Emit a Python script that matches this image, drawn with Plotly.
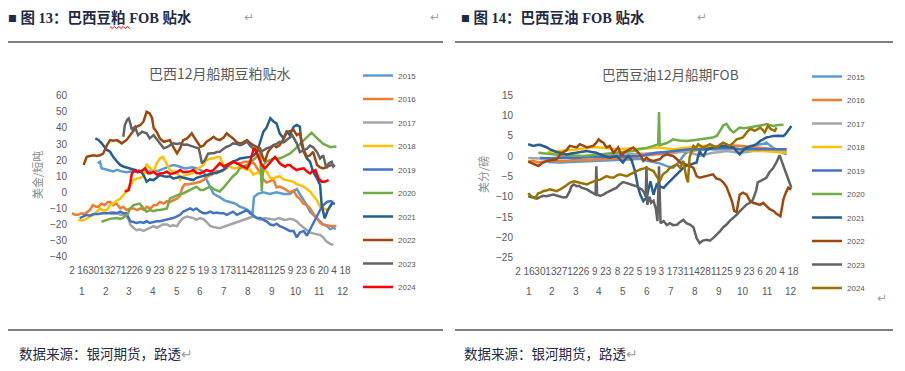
import plotly.graph_objects as go
import pandas as pd

# ---------------- data (day-of-year, value) ----------------
years = [2015, 2016, 2017, 2018, 2019, 2020, 2021, 2022, 2023, 2024]

# Brazil soymeal Dec-shipment FOB premium (USD/short ton)
meal_2015 = [(35,18),(38,19),(40,15),(47,14),(55,13),(60,14),(66,13),(72,12.5),(80,13),(85,12.5),(92,13),(98,12.5),(105,13.5),(111,13),(116,14),(120,15),(126,16),(132,17),(137,16.5),(141,16),(146,15),(150,15),(156,15.5),(162,15),(167,14),(172,12),(175,8),(180,3),(184,-1),(192,-3),(198,-5),(205,-6),(212,-7),(218,-9),(224,-10),(231,-12),(234,-14),(236,-3),(241,-1),(248,0),(256,-1),(265,0),(274,-1),(282,-1),(288,1),(291,2),(296,-2),(300,-5),(304,-8),(308,-12),(313,-14),(317,-16),(321,-18),(325,-20),(330,-21),(334,-23),(338,-22),(341,-23)]
meal_2016 = [(2,-13),(6,-14),(10,-14),(14,-13),(18,-13.5),(22,-12),(25,-11),(29,-8),(33,-9),(36,-9),(40,-7),(44,-8),(48,-6),(51,-6),(55,-8),(59,-7),(64,-10),(68,-9),(72,-11),(77,-10),(81,-10),(86,-11),(90,-10),(95,-11),(98,-9),(103,-10),(107,-8),(111,-8),(115,-6),(120,-7),(124,-5.5),(128,-6),(132,-5),(137,-4),(141,-2),(144,3),(147,5),(152,5),(158,5.5),(163,6),(167,6.5),(172,8),(176,10),(182,11),(188,13),(195,13),(201,15),(205,17),(209,19),(214,18),(218,18),(224,19),(231,19),(236,18),(240,15),(244,12),(248,8),(252,6),(257,7),(261,8),(265,3),(269,3.5),(274,2.5),(278,1.5),(282,0),(287,1),(291,-2.5),(295,-4),(299,-7),(304,-8),(308,-10),(312,-13),(317,-16),(321,-19),(325,-20),(330,-20.5),(336,-21),(342,-21)]
meal_2017 = [(50,-13),(55,-13.5),(60,-13),(64,-14),(68,-14),(72,-15),(75,-17),(77,-20),(81,-22),(85,-23.5),(89,-23),(94,-24),(98,-23),(102,-22),(107,-21),(111,-22),(115,-21),(119,-20),(124,-20),(128,-21),(132,-20.5),(137,-21),(141,-18),(145,-16),(150,-15),(154,-15.5),(158,-16),(162,-17),(167,-16),(172,-17),(176,-19),(180,-21),(184,-21.5),(188,-22),(192,-22.3),(235,-15),(240,-16),(244,-17),(250,-16),(256,-16.5),(262,-17),(268,-16),(274,-17),(278,-17),(282,-16.5),(287,-17),(291,-18),(295,-20),(300,-22),(304,-24),(308,-25),(312,-25.5),(317,-26),(321,-26.5),(325,-28),(329,-30.5),(334,-32),(338,-32.7)]
meal_2018 = [(10,-17),(15,-17.5),(19,-17),(25,-15),(30,-14),(34,-12),(38,-10),(43,-11.5),(47,-11),(51,-8),(55,-7),(60,-5),(64,-4),(68,-2),(72,1),(77,4.5),(81,7.5),(85,8.5),(90,9),(94,10),(96,15),(98,17),(102,15),(107,13),(111,18),(115,21),(119,22),(124,17),(128,14),(132,13),(137,12.5),(141,8),(145,10),(150,11),(154,11.5),(158,12),(162,14),(167,16),(171,17),(175,20),(180,21),(184,21),(188,22),(192,22),(197,17),(201,16),(205,16),(209,15),(214,15),(218,16),(222,15),(227,14),(231,14),(235,11),(240,12),(244,12),(248,13),(252,13),(257,9),(261,8.5),(265,9.5),(269,10),(274,8),(278,7.5),(282,7),(287,6.5),(291,5),(295,4.5),(300,3.5),(304,2),(308,0.5),(312,-2),(317,-5),(321,-9),(325,-10),(330,-11),(334,-9),(336,-8)]
meal_2019 = [(12,-16),(16,-15),(21,-14),(25,-14.5),(30,-13.5),(36,-13.5),(42,-13),(48,-13),(55,-12.5),(60,-13),(64,-12),(68,-13),(72,-13),(75,-16),(77,-18),(81,-18.5),(85,-19),(90,-18.5),(94,-19),(98,-18),(102,-19),(107,-18.5),(111,-18),(115,-18),(120,-17.5),(124,-17),(128,-16.5),(132,-16),(137,-15),(141,-14),(145,-12),(150,-11),(154,-10),(158,-11),(162,-10),(167,-12),(171,-13),(175,-13),(180,-12),(184,-13),(188,-12.5),(192,-13),(197,-13),(201,-14),(205,-13),(209,-12),(214,-14),(218,-13),(222,-12),(227,-11),(231,-13),(236,-15),(240,-16),(244,-16),(248,-17),(252,-18),(257,-20),(261,-20.5),(265,-19.5),(269,-21),(274,-22),(278,-23),(282,-24),(287,-24),(291,-28),(295,-25),(300,-24),(304,-27),(308,-23),(312,-19),(317,-15),(321,-11),(325,-8),(330,-6),(334,-5.5),(338,-6)]
meal_2020 = [(40,-18.3),(44,-17.5),(47,-17.3),(51,-16.5),(55,-16.2),(60,-16),(64,-16.5),(68,-15.8),(72,-14),(74,-13),(77,-10),(81,-8),(85,-7.5),(89,-7),(94,-10),(98,-12),(102,-11),(107,-11.7),(111,-11),(115,-11),(120,-10.5),(124,-10),(128,-4),(132,-3),(137,-1.7),(141,-1),(145,-0.7),(150,0.5),(154,1.4),(158,2.4),(162,3.5),(167,1.5),(171,1.5),(175,2.5),(180,3.5),(184,2),(188,1),(192,0.5),(197,3),(201,5.5),(205,8),(209,10),(214,12),(218,15),(222,16),(227,17),(231,18),(235,20),(240,22),(244,24),(246,0.5),(248,17),(252,19),(257,20),(261,21),(265,21),(269,21),(274,22),(278,23),(282,24),(287,26),(291,28),(295,30),(300,32),(304,34.5),(308,36.5),(310,37),(314,35),(317,33.5),(321,31.5),(325,30),(330,29),(334,28),(338,28.3),(342,28.3)]
meal_2021 = [(32,33.5),(36,32.5),(40,30.5),(44,28.3),(47,26.3),(51,25.2),(55,22),(60,19),(64,17),(68,16),(72,15.3),(77,14.5),(81,13.8),(85,13.5),(90,13.2),(94,10.7),(98,6.6),(102,8),(107,7.6),(111,9),(115,10.7),(120,10),(124,9.7),(128,10),(132,8.6),(137,9),(141,9.7),(145,9),(150,8.6),(154,8),(158,7.6),(162,9),(167,9.7),(171,10),(175,10.7),(180,11.7),(184,12),(188,12),(192,12.8),(197,14),(201,16),(205,17.5),(209,19),(214,20),(218,21),(224,21.5),(231,22),(236,23),(240,25.2),(244,31.4),(248,37.6),(252,40),(257,46),(261,44),(265,42.8),(269,36.6),(274,33.5),(278,37.6),(282,35.5),(287,40.7),(291,41.8),(295,40.7),(297,30),(300,25.2),(304,21),(308,19),(312,12.8),(317,8.6),(321,4.5),(323,-8),(325,-12),(327,-16.2),(331,-11),(336,-7),(340,-7)]
meal_2022 = [(17,17),(19,19),(21,22),(25,22.5),(30,23),(34,22.5),(38,23),(42,24),(47,29.3),(51,32.4),(55,32),(60,32.4),(64,31),(66,30.4),(72,32.4),(77,35.5),(81,38),(85,40.7),(90,41.8),(94,44),(98,50),(102,49),(105,46),(107,40),(111,37.5),(115,33.5),(120,31.4),(124,32),(128,32.4),(132,28.3),(137,24.2),(141,27.3),(145,32.4),(150,33.5),(156,36.6),(160,33.5),(164,30),(167,28.3),(171,29),(175,31.4),(180,33),(184,34.5),(188,33),(192,32.4),(197,34),(201,36.6),(205,35),(209,33.5),(214,31),(218,30.4),(222,31),(227,32.4),(231,30.5),(235,29.3),(240,28),(244,27.3),(247,22),(250,19),(254,25.2),(257,27),(261,29.3),(265,28),(269,29.3),(274,33),(278,37.6),(282,38),(287,38.7),(291,35.5),(295,36.6),(300,26.3),(304,22),(308,23),(312,25.2),(317,17),(321,15.5),(325,14.9),(330,16),(336,17)]
meal_2023 = [(68,34.5),(70,41.8),(73,45),(75,45.9),(77,42.8),(79,38.7),(83,40.7),(87,35.5),(92,37.6),(98,36.6),(102,33.5),(107,35.5),(111,33),(115,30.4),(120,27.3),(124,28),(128,29.3),(132,30.4),(137,30),(141,30.4),(145,29.5),(150,29.7),(154,29),(158,28.3),(162,28),(165,27.3),(167,23),(169,18),(173,20),(177,24),(181,24.2),(184,24.2),(188,25),(192,25.2),(197,27),(201,28.3),(205,29),(209,30.4),(214,30),(218,29.3),(222,30),(227,31.4),(231,29),(235,27.3),(240,26),(244,25.2),(248,26),(252,27.3),(257,28),(261,29.3),(265,30),(269,31.4),(274,31),(278,32.4),(282,34),(285,35.5),(288,33),(291,30.4),(295,25),(300,26.3),(304,27),(308,29),(312,28),(317,25),(321,21),(325,23),(329,15),(332,18),(336,19),(338,16),(340,17)]
meal_2024 = [(70,0.4),(72,1),(75,1.4),(77,6),(79,11.7),(83,13.8),(87,12.5),(90,12.8),(96,14.9),(100,11.7),(104,12),(107,12.8),(111,11),(115,11.7),(120,12),(124,12.8),(128,11.5),(132,11.7),(137,12.5),(141,13.8),(145,12.5),(150,12.8),(154,13),(158,13.8),(162,12),(167,11.7),(171,12.5),(175,13.8),(180,13),(184,13.8),(188,16),(192,18),(197,16),(201,17),(205,18),(209,19),(214,18),(218,17),(222,16),(227,14.9),(230,17),(233,22),(235,26),(237,27.3),(239,25),(242,22),(246,17),(250,14.9),(254,17),(257,19),(261,21),(263,22),(266,20),(269,18),(272,17),(276,15.9),(279,17),(282,17),(287,15),(291,13.8),(295,14.5),(300,14.9),(304,13),(308,11.7),(311,13),(315,13.8),(319,8.6),(323,6.6),(327,6.6),(332,7.6)]

# Brazil soyoil Dec-shipment FOB premium (US cents/lb)
oil_2015 = [(40,-1.5),(55,-1.6),(70,-1.5),(85,-1.4),(100,-1.3),(115,-1.1),(128,-1),(140,-0.9),(150,-0.8),(158,-0.7),(166,-1.2),(175,-1.5),(183,-1.8),(192,-2.5),(200,-2.9),(205,-2),(209,-1),(215,0.5),(221,1.25),(230,1.5),(243,1.7),(254,1.6),(264,1.7),(275,1.8),(285,1.7),(292,2),(298,2.5),(305,2.7),(311,2.9),(316,3),(319,3.3),(324,2.5),(328,2),(332,1.5),(336,1.25),(340,0.8),(345,0.4)]
oil_2016 = [(15,-1.4),(21,-1.2),(28,-1.6),(35,-1.3),(43,-1.05),(52,-1.2),(64,-1.2),(75,-1),(85,-1.05),(96,-0.9),(107,-0.8),(118,-0.6),(128,-0.55),(138,-0.5),(149,-0.4),(158,0),(168,0.2),(179,0.4),(190,0.6),(200,0.8),(210,1),(221,1.25),(232,1.7),(243,2.1),(254,2.3),(264,2.5),(275,2.6),(285,2.5),(296,2.3),(306,2.1),(317,1.9),(328,1.7),(340,1.25)]
oil_2017 = [(15,-0.5),(30,-0.6),(45,-0.5),(60,-0.3),(75,-0.2),(90,0),(105,0.1),(120,0.2),(135,0.3),(150,0.5),(165,0.6),(180,0.8),(195,0.9),(208,1),(217,1.25),(226,0.6),(234,0),(242,0.4),(251,0.8),(260,1),(268,1.25),(277,1),(285,0.8),(294,1),(302,1.25),(315,1.3),(328,1.4),(337,1.3),(345,1.25)]
oil_2018 = [(40,1),(55,1.2),(70,1.5),(85,1.8),(98,2.2),(107,2.1),(118,1.9),(128,1.65),(138,1.8),(149,1.9),(158,1.65),(168,1.9),(179,2.1),(190,1.9),(200,1.65),(210,1.9),(221,2.1),(232,2.3),(243,2.5),(254,2.3),(264,2.1),(275,1.9),(285,1.65),(296,1.4),(307,1.25),(318,1.2),(328,1.1),(337,1),(345,0.8)]
oil_2019 = [(30,-0.5),(45,-0.6),(60,-0.4),(75,-0.5),(90,-0.3),(105,-0.2),(120,-0.1),(135,-0.1),(150,0),(158,0),(168,0.4),(179,0.8),(190,1),(200,1.25),(210,1.4),(221,1.65),(232,1.65),(243,1.65),(254,1.9),(264,2.1),(275,1.9),(285,1.65),(296,1.65),(307,1.65),(318,1.65),(328,1.65),(337,1.6),(345,1.65)]
oil_2020 = [(28,0.8),(36,0.6),(43,0.4),(53,0.3),(64,0.25),(75,0.1),(85,0),(96,0.2),(107,0.4),(118,0.6),(128,0.8),(138,1),(149,1.25),(158,1.8),(166,2),(175,2.5),(181,2.9),(182,10.8),(183,2.7),(192,3.2),(200,4.1),(208,3.8),(217,3.7),(226,3.9),(234,4.1),(243,4.3),(251,4.55),(256,5),(260,6.2),(264,7.5),(268,7.9),(273,6.5),(277,5.8),(281,6.5),(285,7),(291,6.8),(298,7),(304,7.2),(311,7.4),(315,7.6),(319,7.85),(324,7.5),(328,7.4),(334,7.6),(341,7.7)]
oil_2021 = [(15,2.9),(19,2.6),(22,2.5),(26,2.7),(30,2.75),(35,2.4),(39,2.1),(43,1.6),(47,1.25),(51,1),(56,0.8),(60,0.6),(64,0.4),(70,0.6),(77,0.8),(83,1),(90,1.25),(96,1),(102,0.8),(107,0.4),(111,0),(115,-0.2),(119,-0.4),(124,-0.2),(128,0),(132,-0.8),(136,-1.6),(140,-0.5),(143,0),(147,-1),(149,-2.05),(151,-3.5),(153,-5.35),(155,-7.5),(158,-9.5),(162,-11.1),(166,-10.3),(168,-8.6),(171,-6.2),(175,-9.5),(179,-7),(183,-7.5),(188,-7.8),(192,-7),(196,-6.2),(200,-5.5),(205,-4.5),(209,-3.5),(213,-2.9),(217,-2.4),(222,-2.05),(226,-1.8),(230,-1.6),(232,0),(234,1.25),(236,0.5),(239,0),(243,1.65),(247,1.9),(251,2.1),(257,2.3),(264,2.5),(270,2.3),(277,2.1),(281,1.2),(285,0.4),(290,1.5),(294,2.1),(298,2.3),(302,2.5),(307,3),(311,3.7),(315,4.1),(319,4.55),(323,4.7),(328,4.95),(334,5),(341,4.95),(344,5.5),(347,6.2),(349,6.8),(351,7.4)]
oil_2022 = [(15,-1.4),(19,-1.7),(22,-1.9),(26,-2.3),(28,-2.45),(31,-2),(34,-1.6),(38,-1.3),(43,-1.05),(47,-0.9),(51,-0.8),(54,-0.2),(56,0.4),(60,1),(64,1.4),(68,2.5),(72,2.3),(77,2.1),(81,2.9),(85,2.5),(90,2.1),(94,2.3),(98,2.5),(102,3.3),(105,4.1),(108,3.6),(111,3.3),(115,2.1),(119,2.5),(124,0.8),(127,1.5),(130,2.1),(134,0),(137,0.8),(141,1.25),(145,1.7),(149,2.1),(152,1.5),(156,0.8),(159,0),(162,-1.2),(166,-0.4),(170,-1),(175,-1.2),(179,-1),(183,-0.8),(187,0),(192,0.4),(196,0.2),(200,0),(205,-0.8),(209,-1.6),(213,-1.8),(217,-2.05),(222,-2.5),(226,-2.9),(230,-4.95),(234,-5.35),(238,-5.2),(243,-4.95),(247,-4.7),(251,-4.5),(255,-5.5),(260,-5.8),(264,-6.5),(268,-7.5),(272,-9.5),(275,-11),(278,-13.5),(281,-13.8),(285,-9.5),(289,-9),(294,-9.5),(298,-11),(302,-11.5),(306,-11.8),(311,-12),(315,-11.5),(319,-12.2),(323,-13),(328,-13.5),(332,-14.2),(337,-14.8),(341,-10.5),(344,-9),(347,-7.8),(351,-8.2)]
oil_2023 = [(15,-9.9),(21,-10.3),(26,-10.5),(30,-10.1),(34,-9.8),(38,-9.9),(43,-9.6),(47,-9.5),(51,-9.7),(56,-9.9),(60,-10.2),(64,-10.1),(66,-9.5),(68,-8.65),(70,-7.5),(73,-7),(77,-7.4),(80,-7.3),(83,-7.8),(87,-8),(90,-8.2),(94,-8.7),(98,-9.1),(101,-9.5),(102,-2.5),(103,-9.5),(107,-9.8),(111,-9.5),(115,-9),(119,-8.65),(124,-8.2),(128,-7.8),(132,-7),(136,-6.4),(140,-6.6),(145,-7),(149,-7.2),(153,-7.4),(157,-7.8),(160,-8.2),(163,-9),(165,-10),(166,-2.5),(167,-12),(170,-10),(172,-11.5),(175,-11),(178,-13),(180,-16),(182,-2.5),(184,-16.5),(188,-16),(192,-17),(196,-16.5),(200,-17),(205,-16.9),(209,-16.2),(213,-15.7),(217,-16.5),(222,-16.9),(226,-17.5),(230,-20.2),(234,-21.4),(238,-20.8),(243,-20.6),(247,-20.8),(251,-20.2),(255,-19.5),(260,-18.5),(264,-17.5),(268,-16.9),(272,-16),(277,-15.25),(281,-14.5),(285,-13.6),(289,-12.8),(294,-11.9),(298,-11.5),(302,-10.7),(306,-8.5),(308,-6.5),(311,-6.2),(315,-5.8),(319,-5.35),(323,-4),(328,-2.9),(332,-1.5),(336,0.2),(340,-2),(343,-3.7),(346,-5.5),(349,-7),(351,-7.8)]
oil_2024 = [(15,-9.1),(19,-9.9),(24,-10.3),(28,-9.1),(31,-9),(34,-8.65),(38,-8.5),(43,-8.2),(47,-8.4),(51,-8.65),(56,-8.2),(60,-7.8),(64,-7.2),(68,-6.6),(73,-6.2),(77,-6.4),(81,-6.6),(85,-6.8),(90,-7),(94,-6.6),(98,-6.2),(102,-6),(107,-5.8),(111,-5.4),(115,-4.95),(119,-5.2),(124,-5.35),(128,-4.8),(132,-4.5),(136,-4.7),(141,-4.95),(145,-4.5),(149,-4.1),(153,-3.7),(158,-3.3),(162,-3.1),(166,-2.9),(170,-3.3),(175,-3.7),(179,-5),(183,-6.2),(187,-4.5),(192,-3.8),(196,-2.9),(200,-2.5),(205,-2.05),(209,-2.9),(213,-1.2),(217,-5.35),(219,-6.5),(221,-0.4),(224,1.5),(226,2.5),(229,2),(232,2.9),(235,2.5),(238,2.1),(243,2.5),(247,2.9),(251,2.5),(255,2.1),(260,2.8),(264,3.3),(268,2.9),(272,2.5),(277,3.3),(281,4.1),(285,4.3),(289,4.55),(294,5.8),(298,6.6),(301,6.5),(304,6.2),(308,6.6),(311,7),(314,6.5),(317,5.8),(321,7.4),(325,6.6),(330,6.2),(332,7)]

# x-axis labels (dates of the nominal year) and month row labels
tick_dates = ["01-02","01-16","01-30","02-13","02-27","03-12","03-26","04-09","04-23","05-08","05-22","06-05","06-19","07-03","07-17","07-31","08-14","08-28","09-11","09-25","10-09","10-23","11-06","11-20","12-04","12-18"]
month_labels = ["1","2","3","4","5","6","7","8","9","10","11","12"]

# ---------------- styling ----------------
# The page body has an 8px margin, so the figure is 8px smaller each way and all
# positions below are given in page pixels, then shifted into figure coordinates.
OFF = 8
W, H = 905 - OFF, 371 - OFF
def px(x): return (x - OFF) / W
def py(y): return 1 - (y - OFF) / H

colors_common = ["#5B9BD5", "#ED7D31", "#A5A5A5", "#FFC000", "#4472C4",
                 "#70AD47", "#255E91", "#9E480E", "#636363"]
meal_colors = colors_common + ["#FF0000"]
oil_colors = colors_common + ["#997300"]

meal_series = [meal_2015, meal_2016, meal_2017, meal_2018, meal_2019,
               meal_2020, meal_2021, meal_2022, meal_2023, meal_2024]
oil_series = [oil_2015, oil_2016, oil_2017, oil_2018, oil_2019,
              oil_2020, oil_2021, oil_2022, oil_2023, oil_2024]

GREY = "#595959"
NUMFONT = "Liberation Sans, Arial, sans-serif"
CJK = "Noto Sans CJK SC"

tick_doy = [pd.Timestamp("2024-" + d).dayofyear for d in tick_dates]
tick_txt = [str(int(d.split("-")[1])) for d in tick_dates]
month_mid = []
for m in range(1, 13):
    start = pd.Timestamp(2024, m, 1)
    month_mid.append(start.dayofyear - 1 + start.days_in_month / 2)

fig = go.Figure()
for yr, pts, col in zip(years, meal_series, meal_colors):
    fig.add_trace(go.Scatter(
        x=[p[0] for p in pts], y=[p[1] for p in pts], mode="lines",
        line=dict(color=col, width=2.5), name=str(yr),
        legendgroup="m%d" % yr, legend="legend",
        xaxis="x", yaxis="y", hoverinfo="skip"))
for yr, pts, col in zip(years, oil_series, oil_colors):
    fig.add_trace(go.Scatter(
        x=[p[0] for p in pts], y=[p[1] for p in pts], mode="lines",
        line=dict(color=col, width=2.5), name=str(yr),
        legendgroup="o%d" % yr, legend="legend2",
        xaxis="x2", yaxis="y2", hoverinfo="skip"))

xcommon = dict(range=[-3.1, 362], tickmode="array", tickvals=tick_doy,
               ticktext=tick_txt, tickangle=0, showgrid=False, zeroline=False,
               showline=False, ticks="", ticklabelstandoff=6,
               tickfont=dict(family=NUMFONT, size=10, color=GREY),
               fixedrange=True, automargin=False)
ycommon = dict(showgrid=False, zeroline=False, showline=False, ticks="",
               tickfont=dict(family=NUMFONT, size=10, color=GREY),
               fixedrange=True, automargin=False)

legcommon = dict(orientation="v", font=dict(family=NUMFONT, size=8, color=GREY),
                 bgcolor="rgba(0,0,0,0)", tracegroupgap=4.5,
                 xanchor="left", yanchor="top", itemwidth=30)

fig.update_layout(
    width=W, height=H,
    margin=dict(l=0, r=0, t=0, b=0, pad=0, autoexpand=False),
    paper_bgcolor="white", plot_bgcolor="white", showlegend=True,
    xaxis=dict(domain=[px(68), px(352)], anchor="y", **xcommon),
    yaxis=dict(domain=[py(256.7), py(95.7)], range=[-40, 60], dtick=10, anchor="x", **ycommon),
    xaxis2=dict(domain=[px(514), px(800)], anchor="y2", **xcommon),
    yaxis2=dict(domain=[py(257.7), py(95)], range=[-25, 15], dtick=5, anchor="x2", **ycommon),
    legend=dict(x=px(358), y=py(61), **legcommon),
    legend2=dict(x=px(807), y=py(62), **legcommon),
)

ann = []
# month row
for xref in ("x", "x2"):
    for mm, lab in zip(month_mid, month_labels):
        ann.append(dict(x=mm, y=py(291), xref=xref, yref="paper", text=lab,
                        showarrow=False, xanchor="center", yanchor="middle",
                        font=dict(family=NUMFONT, size=10, color=GREY)))
def text_at(x, y, text, font, xanchor="center", angle=0):
    ann.append(dict(x=px(x), y=py(y), xref="paper", yref="paper", text=text,
                    showarrow=False, xanchor=xanchor, yanchor="middle",
                    textangle=angle, font=font))
# chart titles
text_at(220, 73, "巴西12月船期豆粕贴水", dict(family=CJK, size=14, color=GREY))
text_at(670, 74, "巴西豆油12月船期FOB", dict(family=CJK, size=13.6, color=GREY))
# axis titles
text_at(37, 175, "美金/短吨", dict(family=CJK, size=11, color="#8C8C8C"), angle=-90)
text_at(483, 175, "美分/磅", dict(family=CJK, size=11, color="#8C8C8C"), angle=-90)
# document header / footer text
HEADFONT = "Liberation Serif, Noto Sans CJK SC"
text_at(6, 18, "<b>■ 图 13：巴西豆粕 FOB 贴水</b>", dict(family=HEADFONT, size=14.5, color="#1F2A44"), xanchor="left")
text_at(459, 18, "<b>■ 图 14：巴西豆油 FOB 贴水</b>", dict(family=HEADFONT, size=14.5, color="#1F2A44"), xanchor="left")
for xx, yy in ((249, 17), (435, 17), (702, 17), (882, 298)):
    text_at(xx, yy, "↵", dict(family="DejaVu Sans", size=12, color="#A0A0A0"))
for xx in (17, 462):
    text_at(xx, 353, "数据来源：银河期货，路透<span style='color:#A0A0A0'>↵</span>",
            dict(family=CJK, size=13.5, color="#1F2A44"), xanchor="left")
fig.update_layout(annotations=ann)

shapes = []
for x0, x1 in ((8, 443), (455, 893)):
    for yy in (42, 330):
        shapes.append(dict(type="line", xref="paper", yref="paper",
                           x0=px(x0), x1=px(x1), y0=py(yy), y1=py(yy),
                           line=dict(color="#000000", width=1)))
# spell-check squiggle under the header character
zig = []
xx = 110.0
k = 0
while xx <= 131:
    zig.append("%s%.5f,%.5f" % ("M" if k == 0 else "L", px(xx), py(26.5 if k % 2 == 0 else 28.5)))
    xx += 2.2
    k += 1
shapes.append(dict(type="path", xref="paper", yref="paper", path=" ".join(zig),
                   line=dict(color="#FF0000", width=1)))
fig.update_layout(shapes=shapes)

fig.write_html("out.html")
